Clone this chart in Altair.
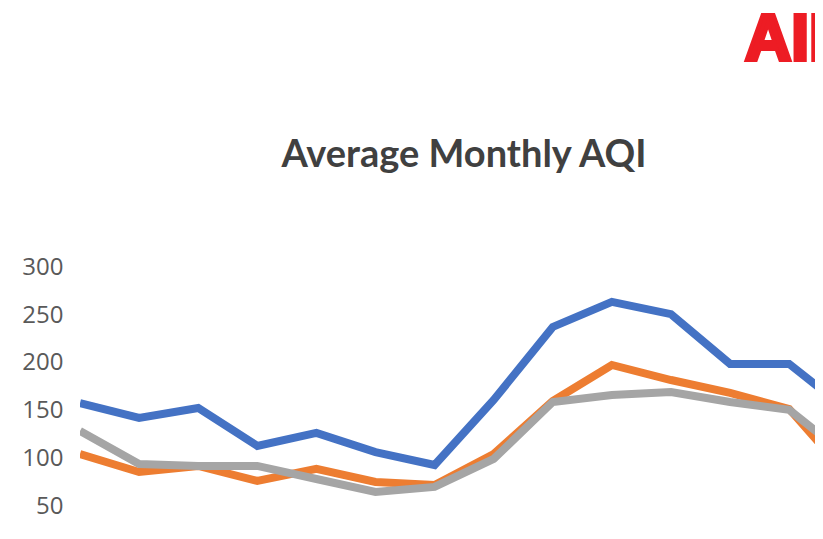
import altair as alt
import pandas as pd

# ---- data ----
months = list(range(14))
series_names = ["Series 1", "Series 2", "Series 3"]
series_1 = [158, 142.6, 153, 113.4, 127, 107, 93.5, 161.4, 237.6, 263.7, 251, 199, 199, 150]
series_2 = [105, 86.2, 92.5, 76.8, 89.4, 75.8, 72.7, 105, 160.3, 197.9, 182.2, 168.7, 152, 82]
series_3 = [129, 94.5, 92.5, 92.5, 78.9, 65.3, 70.6, 99.8, 159.3, 166.6, 169.7, 159.3, 151, 102]
series_colors = ["#4472C4", "#ED7D31", "#A5A5A5"]
y_ticks = [50, 100, 150, 200, 250, 300]
title_text = "Average Monthly AQI"
logo_text = "AII"

rows = []
for name, vals in zip(series_names, [series_1, series_2, series_3]):
    for m, v in zip(months, vals):
        rows.append({"month": m, "aqi": v, "series": name})
df = pd.DataFrame(rows)

lines = alt.Chart(df).mark_line(strokeWidth=8, clip=True, strokeJoin="miter").encode(
    x=alt.X("month:Q", scale=alt.Scale(domain=[0, 12.437], nice=False, zero=False), axis=None),
    y=alt.Y(
        "aqi:Q",
        scale=alt.Scale(domain=[24.6, 320], nice=False, zero=False),
        axis=alt.Axis(
            values=y_ticks,
            grid=False,
            domain=False,
            ticks=False,
            title=None,
            labelFont="Open Sans",
            labelFontSize=24,
            labelColor="#595959",
            labelPadding=17,
        ),
    ),
    color=alt.Color(
        "series:N",
        scale=alt.Scale(domain=series_names, range=series_colors),
        legend=None,
    ),
)

title = alt.Chart(pd.DataFrame({"t": [title_text]})).mark_text(
    font="Lato",
    fontSize=38,
    fontWeight="bold",
    color="#404040",
    align="center",
    baseline="alphabetic",
).encode(x=alt.value(384), y=alt.value(-81), text="t:N")

logo = alt.Chart(pd.DataFrame({"t": [logo_text]})).mark_text(
    font="Liberation Sans",
    fontSize=64,
    fontWeight="bold",
    color="#ED1C24",
    stroke="#ED1C24",
    strokeWidth=4,
    align="left",
    baseline="alphabetic",
).encode(x=alt.value(665), y=alt.value(-188), text="t:N")

chart = alt.layer(lines, title, logo).properties(
    width=735,
    height=283,
    autosize=alt.AutoSizeParams(type="none"),
    padding={"left": 72, "top": 240, "right": 0, "bottom": 0},
).configure_view(stroke=None)

chart.save("out.html", embed_options={"renderer": "svg", "actions": False})
